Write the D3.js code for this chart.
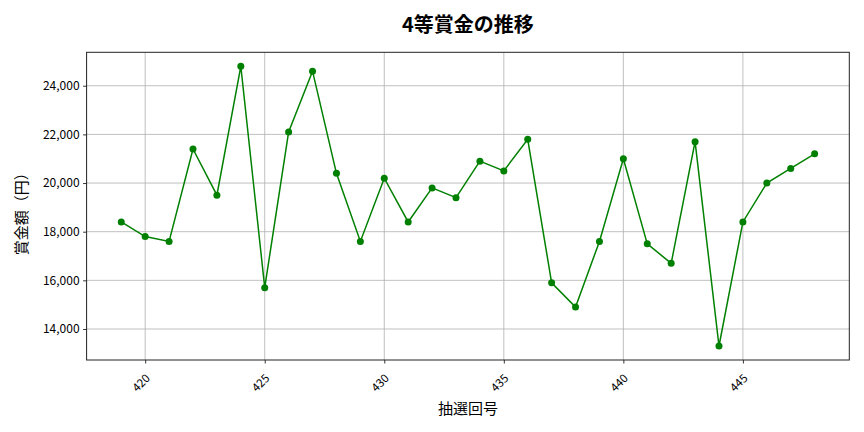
<!DOCTYPE html>
<html><head><meta charset="utf-8">
<script src="https://cdn.jsdelivr.net/npm/d3@7"></script>
<style>body{margin:0;background:#fff;} svg{display:block;font-family:"Noto Sans CJK JP","Noto Sans",sans-serif;}</style>
</head><body>
<svg id="c" width="864" height="432"></svg>
<script>
const draws = [419,420,421,422,423,424,425,426,427,428,429,430,431,432,433,434,435,436,437,438,439,440,441,442,443,444,445,446,447,448];
const prizes = [18400,17800,17600,21400,19500,24800,15700,22100,24600,20400,17600,20200,18400,19800,19400,20900,20500,21800,15900,14900,17600,21000,17500,16700,21700,13300,18400,20000,20600,21200];
const xTicks = [420,425,430,435,440,445];
const yTicks = [14000,16000,18000,20000,22000,24000];
const title = "4等賞金の推移";
const xLabel = "抽選回号";
const yLabel = "賞金額（円）";

const FONT = '"Noto Sans CJK JP","Noto Sans",sans-serif';
const svg = d3.select("#c");
const L=86.6, R=849.3, T=52.3, B=360;
const xmin=d3.min(draws), xmax=d3.max(draws), xm=(xmax-xmin)*0.05;
const ymin=d3.min(prizes), ymax=d3.max(prizes), ym=(ymax-ymin)*0.05;
const x=d3.scaleLinear().domain([xmin-xm,xmax+xm]).range([L,R]);
const y=d3.scaleLinear().domain([ymin-ym,ymax+ym]).range([B,T]);

// grid
svg.append("g").selectAll("line").data(xTicks).join("line")
  .attr("x1",d=>x(d)).attr("x2",d=>x(d)).attr("y1",T).attr("y2",B)
  .attr("stroke","#b0b0b0").attr("stroke-width",0.8);
svg.append("g").selectAll("line").data(yTicks).join("line")
  .attr("x1",L).attr("x2",R).attr("y1",d=>y(d)).attr("y2",d=>y(d))
  .attr("stroke","#b0b0b0").attr("stroke-width",0.8);

// axes
const xa=svg.append("g").attr("transform",`translate(0,${B})`)
  .call(d3.axisBottom(x).tickValues(xTicks).tickSize(3.5).tickFormat(d3.format("d")))
  .attr("font-family",FONT);
xa.select(".domain").remove();
xa.selectAll("line").attr("stroke","#000").attr("stroke-width",0.8);
xa.selectAll("text").attr("font-size",11.5).attr("fill","#000")
  .attr("text-anchor","end").attr("dy",null).attr("y",null)
  .attr("transform","translate(5,19) rotate(-45)");

const ya=svg.append("g").attr("transform",`translate(${L},0)`)
  .call(d3.axisLeft(y).tickValues(yTicks).tickSize(3.5).tickFormat(d3.format(",")))
  .attr("font-family",FONT);
ya.select(".domain").remove();
ya.selectAll("line").attr("stroke","#000").attr("stroke-width",0.8);
ya.selectAll("text").attr("font-size",12).attr("fill","#000").attr("x",-7);

svg.append("rect").attr("x",L).attr("y",T).attr("width",R-L).attr("height",B-T)
  .attr("fill","none").attr("stroke","#222").attr("stroke-width",1);

// line
svg.append("path").datum(draws.map((d,i)=>[d,prizes[i]]))
  .attr("fill","none").attr("stroke","green").attr("stroke-width",1.5)
  .attr("d",d3.line().x(d=>x(d[0])).y(d=>y(d[1])));
svg.append("g").selectAll("circle").data(draws.map((d,i)=>[d,prizes[i]])).join("circle")
  .attr("cx",d=>x(d[0])).attr("cy",d=>y(d[1])).attr("r",3.5).attr("fill","green");

// labels
svg.append("text").attr("x",(L+R)/2).attr("y",32).attr("text-anchor","middle")
  .attr("font-size",20).attr("font-weight","bold").text(title);
svg.append("text").attr("x",(L+R)/2).attr("y",414).attr("text-anchor","middle")
  .attr("font-size",15).text(xLabel);
svg.append("text").attr("transform",`translate(27,${(T+B)/2+4}) rotate(-90)`).attr("text-anchor","middle")
  .attr("font-size",15).text(yLabel);
</script>
</body></html>
